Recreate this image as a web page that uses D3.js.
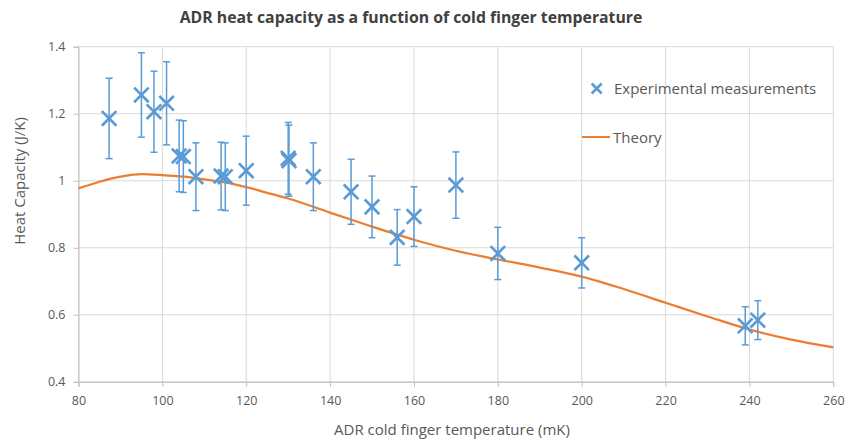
<!DOCTYPE html>
<html>
<head>
<meta charset="utf-8">
<script src="https://cdn.jsdelivr.net/npm/d3@7/dist/d3.min.js"></script>
<style>
  html, body { margin: 0; padding: 0; background: #fff; }
  svg { display: block; }
  text { font-family: "Open Sans", "Noto Sans", sans-serif; }
</style>
</head>
<body>
<svg id="chart" width="845" height="441"></svg>
<script>
// ---- Data ----
const expTemps = [87.3, 95, 98, 101, 104, 105, 108, 114, 115, 120, 130, 130.2, 136, 145, 150, 156, 160, 170, 180, 200, 239, 242];
const expValues = [1.186, 1.256, 1.206, 1.231, 1.074, 1.072, 1.012, 1.014, 1.012, 1.030, 1.067, 1.060, 1.012, 0.967, 0.922, 0.831, 0.893, 0.987, 0.783, 0.755, 0.567, 0.584];
const expErrors = [0.12, 0.126, 0.121, 0.124, 0.107, 0.107, 0.101, 0.101, 0.101, 0.103, 0.107, 0.106, 0.101, 0.097, 0.092, 0.083, 0.089, 0.099, 0.078, 0.075, 0.057, 0.058];

const theoryTemps = [80, 85, 90, 95, 100, 105, 110, 115, 120, 125, 130, 140, 150, 160, 170, 180, 190, 200, 210, 220, 230, 240, 250, 260];
const theoryValues = [0.977, 0.997, 1.012, 1.020, 1.017, 1.012, 1.004, 0.995, 0.981, 0.964, 0.947, 0.905, 0.863, 0.824, 0.791, 0.765, 0.741, 0.714, 0.677, 0.636, 0.595, 0.556, 0.526, 0.503];

const xTicks = [80, 100, 120, 140, 160, 180, 200, 220, 240, 260];
const yTicks = [0.4, 0.6, 0.8, 1.0, 1.2, 1.4];

const titleText = "ADR heat capacity as a function of cold finger temperature";
const xLabel = "ADR cold finger temperature (mK)";
const yLabel = "Heat Capacity (J/K)";
const seriesNames = ["Experimental measurements", "Theory"];

// ---- Layout ----
const plot = { left: 78.5, right: 833.3, top: 46.7, bottom: 381.8 };
const blue = "#5b9bd5", orange = "#ed7d31", grid = "#d9d9d9", txt = "#595959";

const svg = d3.select("#chart");
const x = d3.scaleLinear().domain([80, 260]).range([plot.left, plot.right]);
const y = d3.scaleLinear().domain([0.4, 1.4]).range([plot.bottom, plot.top]);

// gridlines
svg.append("g").selectAll("line").data(yTicks).join("line")
  .attr("x1", plot.left).attr("x2", plot.right)
  .attr("y1", d => y(d)).attr("y2", d => y(d))
  .attr("stroke", grid).attr("stroke-width", 1);
svg.append("g").selectAll("line").data(xTicks).join("line")
  .attr("y1", plot.top).attr("y2", plot.bottom)
  .attr("x1", d => x(d)).attr("x2", d => x(d))
  .attr("stroke", grid).attr("stroke-width", 1);

// axes
const xAxis = d3.axisBottom(x).tickValues(xTicks).tickSize(5).tickPadding(9).tickFormat(d3.format("d"));
const gx = svg.append("g").attr("transform", `translate(0,${plot.bottom})`).call(xAxis);
const yAxis = d3.axisLeft(y).tickValues(yTicks).tickSize(5).tickPadding(8).tickFormat(d => d === 1 ? "1" : d3.format(".1f")(d));
const gy = svg.append("g").attr("transform", `translate(${plot.left},0)`).call(yAxis);
[gx, gy].forEach(g => {
  g.select(".domain").attr("stroke", "#bfbfbf");
  g.selectAll(".tick line").attr("stroke", "#bfbfbf");
  g.selectAll(".tick text").attr("fill", txt).style("font-size", "12.5px").style("font-family", "'Open Sans', sans-serif");
});

// theory curve
const line = d3.line().x((d, i) => x(theoryTemps[i])).y(d => y(d)).curve(d3.curveMonotoneX);
svg.append("path").datum(theoryValues)
  .attr("d", line).attr("fill", "none")
  .attr("stroke", orange).attr("stroke-width", 2.25);

// error bars
const eb = svg.append("g").attr("stroke", blue).attr("stroke-width", 1.5).attr("fill", "none");
expValues.forEach((v, i) => {
  const cx = x(expTemps[i]);
  const y1 = y(v + expErrors[i]), y2 = y(v - expErrors[i]);
  eb.append("line").attr("x1", cx).attr("x2", cx).attr("y1", y1).attr("y2", y2);
  eb.append("line").attr("x1", cx - 3.5).attr("x2", cx + 3.5).attr("y1", y1).attr("y2", y1);
  eb.append("line").attr("x1", cx - 3.5).attr("x2", cx + 3.5).attr("y1", y2).attr("y2", y2);
});

// markers
const s = 7.3;
const mk = svg.append("g").attr("stroke", blue).attr("stroke-width", 2.7).attr("stroke-linecap", "butt");
expValues.forEach((v, i) => {
  const cx = x(expTemps[i]), cy = y(v);
  mk.append("path").attr("d", `M${cx - s},${cy - s}L${cx + s},${cy + s}M${cx - s},${cy + s}L${cx + s},${cy - s}`);
});

// title
svg.append("text").attr("x", 411).attr("y", 23).attr("text-anchor", "middle")
  .attr("fill", "#404040").style("font-size", "15.8px").style("font-weight", "bold").text(titleText);

// axis labels
svg.append("text").attr("x", 452).attr("y", 435).attr("text-anchor", "middle")
  .attr("fill", txt).style("font-size", "15px").text(xLabel);
svg.append("text").attr("transform", "translate(25,181) rotate(-90)").attr("text-anchor", "middle")
  .attr("fill", txt).style("font-size", "15px").text(yLabel);

// legend
const lg = svg.append("g");
const lx = 596.7, ly1 = 88.5, ly2 = 137;
lg.append("path").attr("d", `M${lx - 5},${ly1 - 5}L${lx + 5},${ly1 + 5}M${lx - 5},${ly1 + 5}L${lx + 5},${ly1 - 5}`)
  .attr("stroke", blue).attr("stroke-width", 2.5);
lg.append("text").attr("x", 614).attr("y", ly1 + 5.5).attr("fill", txt).style("font-size", "15px").text(seriesNames[0]);
lg.append("line").attr("x1", 582).attr("x2", 610).attr("y1", ly2).attr("y2", ly2).attr("stroke", orange).attr("stroke-width", 2);
lg.append("text").attr("x", 613).attr("y", ly2 + 5.5).attr("fill", txt).style("font-size", "15px").text(seriesNames[1]);
</script>
</body>
</html>
